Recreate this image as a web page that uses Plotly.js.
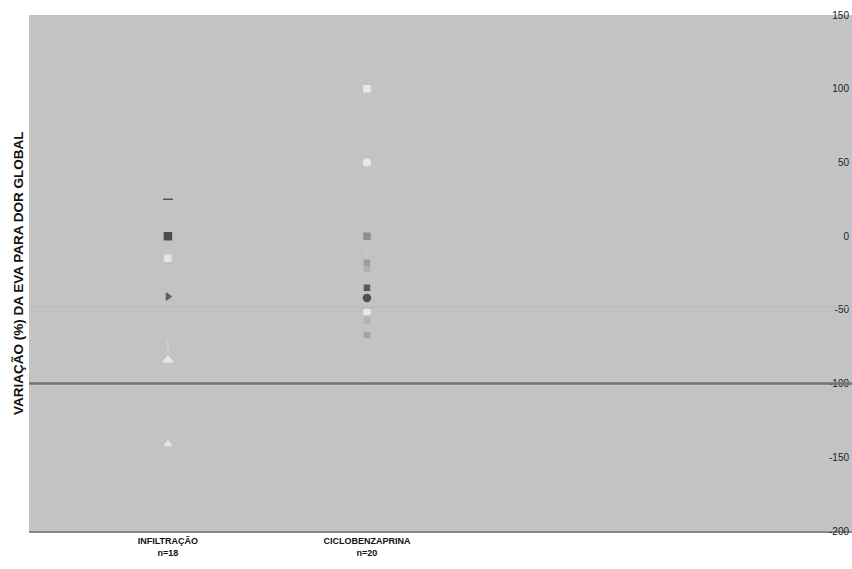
<!DOCTYPE html>
<html>
<head>
<meta charset="utf-8">
<script src="https://cdn.plot.ly/plotly-3.0.1.min.js"></script>
<style>html,body{margin:0;padding:0;background:#fff;}#chart{width:852px;height:569px;}</style>
</head>
<body>
<div id="chart"></div>
<script>
// ---- data ----
const groups = ['INFILTRAÇÃO', 'CICLOBENZAPRINA'];
const groupN = ['n=18', 'n=20'];
const infiltracaoValues = [25, 0, -15, -41, -75, -84, -100, -141];
const ciclobenzaprinaValues = [100, 50, 0, -10, -18, -22, -35, -42, -49, -51, -57, -67, -100];
const yTicks = [150, 100, 50, 0, -50, -100, -150, -200];
const yTickLabels = ['150', '100', '50', '0', '-50', '-100', '-150', '-200'];
const referenceLine = -100;
const faintLine = -48;

// ---- styles (separate from data) ----
const infStyle = {
  color: ['#222222', '#1a1a1a', '#f4f4f4', '#3a3a3a', '#d8d8d8', '#f6f6f6', '#d0d0d0', '#f2f2f2'],
  symbol: ['line-ew-open', 'square', 'square', 'triangle-right', 'line-ns-open', 'triangle-up', 'circle', 'triangle-up'],
  size: [7, 7, 6, 6, 9, 8, 4, 6]
};
const cicStyle = {
  color: ['#f8f8f8', '#f8f8f8', '#7a7a7a', '#cccccc', '#8e8e8e', '#a8a8a8', '#2c2c2c', '#202020', '#3a3a3a', '#f8f8f8', '#a9a9a9', '#969696', '#d0d0d0'],
  symbol: ['square', 'circle', 'square', 'circle', 'square', 'square', 'square', 'circle', 'line-ew-open', 'square', 'square', 'square', 'circle'],
  size: [6, 7, 6, 4, 5, 5, 5, 7, 6, 6, 5, 5, 4]
};

function trace(group, values, style) {
  return {
    type: 'scatter', mode: 'markers',
    x: values.map(() => group), y: values,
    marker: {
      color: style.color, symbol: style.symbol, size: style.size,
      line: {color: style.color, width: 1.5}
    },
    showlegend: false, hoverinfo: 'y'
  };
}

const data = [
  trace(groups[0], infiltracaoValues, infStyle),
  trace(groups[1], ciclobenzaprinaValues, cicStyle)
];

const layout = {
  width: 852, height: 569,
  margin: {l: 29, r: 0, t: 15, b: 38},
  paper_bgcolor: '#ffffff',
  plot_bgcolor: '#c3c3c3',
  font: {family: 'Liberation Sans, Arial, sans-serif', color: '#111'},
  xaxis: {
    type: 'category',
    categoryorder: 'array', categoryarray: groups,
    range: [-0.698, 3.437],
    tickmode: 'array', tickvals: groups,
    ticktext: groups.map((g, i) => '<b>' + g + '</b><br><b>' + groupN[i] + '</b>'),
    tickfont: {size: 9, color: '#111'},
    showgrid: false, zeroline: false, showline: true,
    linecolor: '#8a8a8a', linewidth: 2, ticks: '', ticklen: 0
  },
  yaxis: {
    range: [-200, 150],
    side: 'right',
    ticklabelposition: 'inside',
    ticklabeloverflow: 'allow',
    tickmode: 'array', tickvals: yTicks, ticktext: yTickLabels,
    tickfont: {size: 10, color: '#222'},
    showgrid: false, zeroline: false, showline: false, ticks: '',
    title: {text: ''}
  },
  shapes: [
    {type: 'line', xref: 'paper', x0: 0, x1: 1, yref: 'y', y0: referenceLine, y1: referenceLine,
     line: {color: '#747474', width: 2.5}},
    {type: 'line', xref: 'paper', x0: 0, x1: 1, yref: 'y', y0: faintLine, y1: faintLine,
     line: {color: '#bcbcbc', width: 1}}
  ],
  annotations: [
    {text: '<b>VARIAÇÃO (%) DA EVA PARA DOR GLOBAL</b>', textangle: -90,
     xref: 'paper', yref: 'paper', x: 0, y: 0.5, xshift: -11, xanchor: 'center', yanchor: 'middle',
     showarrow: false, font: {size: 13.5, color: '#111'}}
  ]
};

Plotly.newPlot('chart', data, layout, {displayModeBar: false, staticPlot: true});
</script>
</body>
</html>
